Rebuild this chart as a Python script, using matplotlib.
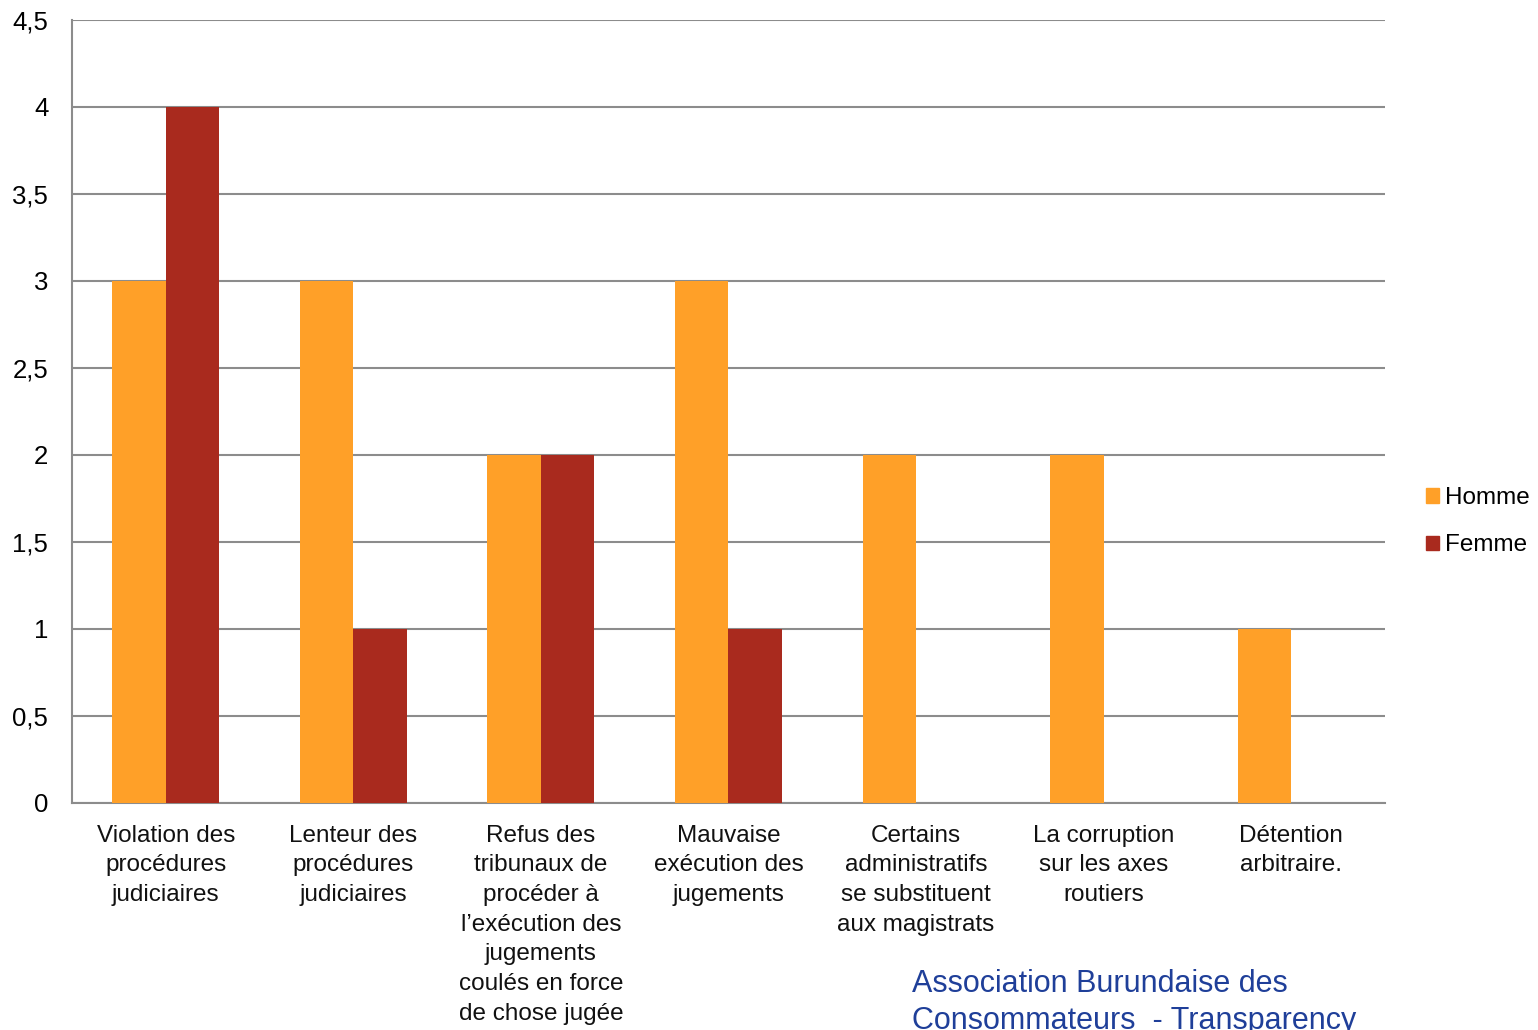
import numpy as np
import matplotlib
matplotlib.use("Agg")
from matplotlib import pyplot as plt
from matplotlib.patches import Patch

plt.rcParams["font.family"] = ["Liberation Sans", "DejaVu Sans"]

categories = [
    "Violation des\nprocédures\njudiciaires",
    "Lenteur des\nprocédures\njudiciaires",
    "Refus des\ntribunaux de\nprocéder à\nl\u2019exécution des\njugements\ncoulés en force\nde chose jugée",
    "Mauvaise\nexécution des\njugements",
    "Certains\nadministratifs\nse substituent\naux magistrats",
    "La corruption\nsur les axes\nroutiers",
    "Détention\narbitraire.",
]
homme = [3, 3, 2, 3, 2, 2, 1]
femme = [4, 1, 2, 1, 0, 0, 0]
yticks = [0, 0.5, 1, 1.5, 2, 2.5, 3, 3.5, 4, 4.5]
ytick_labels = ["0", "0,5", "1", "1,5", "2", "2,5", "3", "3,5", "4", "4,5"]

c_homme = "#FFA028"
c_femme = "#A92A1E"
grid_c = "#8C8C8C"

fig = plt.figure(figsize=(15.38, 10.30), dpi=100)
ax = fig.add_axes([0.0468, 0.2204, 0.8537, 0.7602])

x = np.arange(len(categories))
w = 0.285
ax.bar(x - w / 2, homme, w, color=c_homme, zorder=3)
ax.bar(x + w / 2, femme, w, color=c_femme, zorder=3)

ax.set_xlim(-0.5, len(categories) - 0.5)
ax.set_ylim(0, 4.5)
ax.set_yticks(yticks)
ax.set_yticklabels(ytick_labels, fontsize=18.5)
ax.yaxis.grid(True, color=grid_c, linewidth=1.5, zorder=0)
ax.tick_params(axis="y", length=0, pad=17)
ax.tick_params(axis="x", length=0, pad=0)
ax.set_xticks(x)
ax.set_xticklabels([])
for i, lab in enumerate(categories):
    ax.text(i, -0.125, lab, ha="center", va="top", fontsize=17.5,
            linespacing=1.45, color="#111111")

for s in ["top", "right"]:
    ax.spines[s].set_visible(False)
for s in ["left", "bottom"]:
    ax.spines[s].set_color(grid_c)
    ax.spines[s].set_linewidth(1.5)

handles = [Patch(color=c_homme, label="Homme"), Patch(color=c_femme, label="Femme")]
fig.legend(handles=handles, loc="center left", bbox_to_anchor=(0.919, 0.4935),
           frameon=False, fontsize=17.5, handlelength=0.55, handleheight=0.55,
           handletextpad=0.25, labelspacing=1.05, borderpad=0)

note_c = "#1F3F99"
fig.text(0.593, 1 - 992 / 1030, "Association Burundaise des",
         ha="left", va="baseline", fontsize=22, color=note_c)
fig.text(0.593, 1 - 1029 / 1030, "Consommateurs  - Transparency",
         ha="left", va="baseline", fontsize=22, color=note_c)

fig.savefig("out.png", dpi=100)
